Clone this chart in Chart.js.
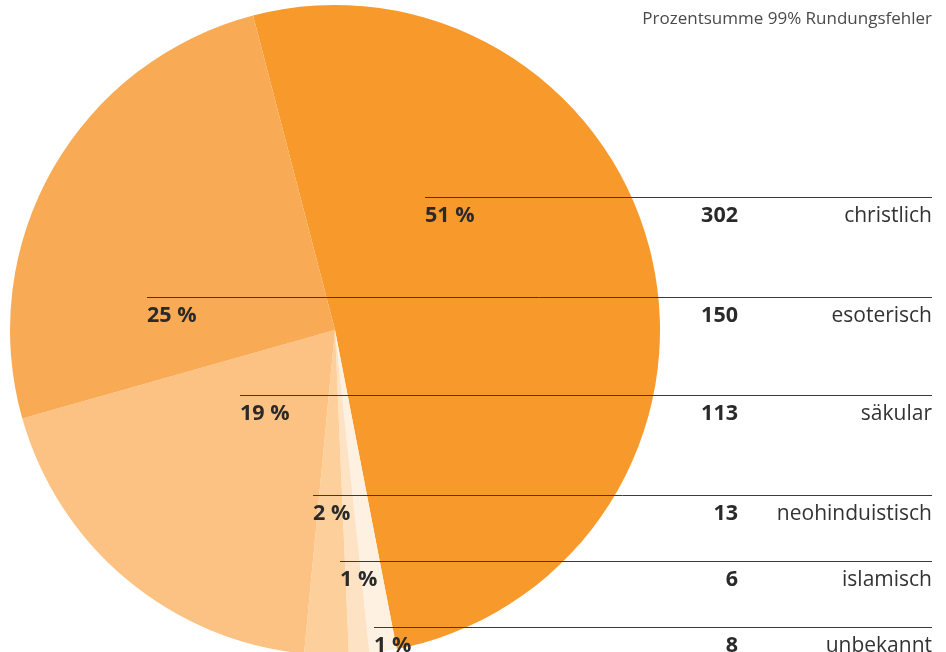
<!DOCTYPE html>
<html>
<head>
<meta charset="utf-8">
<script src="https://cdn.jsdelivr.net/npm/chart.js@4/dist/chart.umd.min.js"></script>
<style>
  html, body { margin: 0; padding: 0; background: #fff; overflow: hidden; }
  #wrap { position: absolute; left: 0; top: 0; width: 946px; height: 660px; }
</style>
</head>
<body>
<div id="wrap"><canvas id="c"></canvas></div>
<script>
// ---- data (label order, top to bottom) ----
const categories = ['christlich', 'esoterisch', 'säkular', 'neohinduistisch', 'islamisch', 'unbekannt'];
const counts = [302, 150, 113, 13, 6, 8];
const colors = ['#f7992b', '#f8aa55', '#fbc283', '#fccf9b', '#fde2c3', '#fef1e2'];
const noteText = 'Prozentsumme 99% Rundungsfehler';

const total = counts.reduce((a, b) => a + b, 0);
const percents = counts.map(v => Math.round(v / total * 100));

// pie order: christlich first, then the remaining categories clockwise (reverse label order)
const order = [0, 5, 4, 3, 2, 1];
const startAngle = -14.6; // degrees, boundary christlich/esoterisch

// ---- annotation layout (positions only) ----
const layout = {
  lineY: [197, 297, 395, 495, 561, 627],
  pctX: [425, 147, 240, 313, 340, 374],
  lineEndX: 932,
  numRightX: 738,
  labelRightX: 932
};

const annot = {
  id: 'annot',
  afterDraw(chart) {
    const ctx = chart.ctx;
    ctx.save();
    // note
    ctx.font = '17px "Open Sans"';
    ctx.fillStyle = '#4a4a4a';
    ctx.textAlign = 'right';
    ctx.textBaseline = 'alphabetic';
    ctx.fillText(noteText, layout.labelRightX, 24);
    categories.forEach((cat, i) => {
      const y = layout.lineY[i];
      ctx.beginPath();
      ctx.strokeStyle = '#3a3a3a';
      ctx.lineWidth = 1;
      ctx.moveTo(layout.pctX[i], y + 0.5);
      ctx.lineTo(layout.lineEndX, y + 0.5);
      ctx.stroke();
      ctx.fillStyle = '#2a2a2a';
      ctx.font = 'bold 21.5px "Open Sans"';
      ctx.textAlign = 'left';
      ctx.fillText(percents[i] + ' %', layout.pctX[i], y + 24.5);
      ctx.textAlign = 'right';
      ctx.fillText(String(counts[i]), layout.numRightX, y + 24.5);
      ctx.font = '21px "Open Sans"';
      ctx.fillStyle = '#333333';
      ctx.fillText(cat, layout.labelRightX, y + 24.5);
    });
    ctx.restore();
  }
};

new Chart(document.getElementById('c'), {
  type: 'pie',
  data: {
    labels: order.map(i => categories[i]),
    datasets: [{
      data: order.map(i => counts[i]),
      backgroundColor: order.map(i => colors[i]),
      borderWidth: 0
    }]
  },
  options: {
    responsive: true,
    maintainAspectRatio: false,
    animation: false,
    rotation: startAngle,
    layout: { padding: { left: 10, right: 286, top: 5, bottom: 5 } },
    plugins: {
      legend: { display: false },
      tooltip: { enabled: false },
      title: { display: false }
    }
  },
  plugins: [annot]
});
</script>
</body>
</html>
